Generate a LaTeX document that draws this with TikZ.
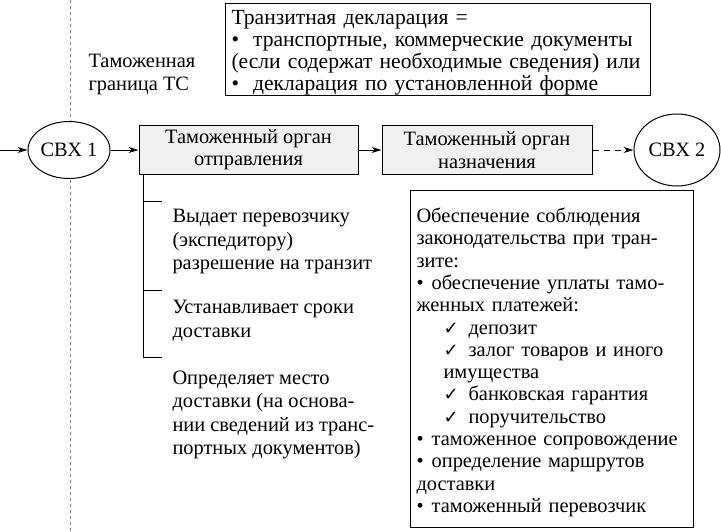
\documentclass[tikz,border=0pt]{standalone}
\usepackage{fontspec}
\setmainfont{Liberation Serif}
\newfontfamily\symfont{DejaVu Sans}
\usetikzlibrary{shapes.geometric, arrows.meta}
\newcommand{\chk}{{\symfont\fontsize{18}{18}\selectfont ✓}}
\newcommand{\bul}{\textbullet}

\begin{document}
\begin{tikzpicture}[x=1pt, y=-1pt, >={Stealth[length=10pt, width=6pt]}, line width=1pt,
        every node/.style={font=\fontsize{20.4}{22.3}\selectfont},
        organ/.style={rectangle, draw, fill=gray!12, minimum height=49pt, align=center},
        svh/.style={ellipse, draw, fill=white, inner sep=0pt},
        note/.style={rectangle, draw, anchor=north west, align=left, inner xsep=6pt},
        task/.style={anchor=north west, align=left, inner sep=0pt, font=\fontsize{20.4}{23.5}\selectfont}]
        \useasboundingbox (0,0) rectangle (721,531);
        % customs border of the union
        \coordinate (gtop) at (70,0);
        \coordinate (gbot) at (70,531);
        \draw [gray, dash pattern=on 3pt off 3pt] (gtop) -- (gbot);
        \node [anchor=north west, align=left, inner sep=0pt] (border) at (88,54) {Таможенная\\граница ТС};

        % declaration
        \node [note, text width=413pt, inner ysep=2pt, text depth=69pt, font=\fontsize{21.6}{22}\selectfont] (decl) at (225,3) {\rule{0pt}{19pt}Транзитная декларация =\\
            \bul\hspace{14pt}транспортные, коммерческие документы\\
            (если содержат необходимые сведения) или\\
            \bul\hspace{14pt}декларация по установленной форме};

        % main route
        \coordinate (in) at (0,150);
        \node [svh, minimum width=82pt, minimum height=57pt] (svh1) at (69,150) {СВХ 1};
        \node [organ, minimum width=219pt] (org1) at (248.5,150) {Таможенный орган\\отправления};
        \node [organ, minimum width=210pt] (org2) at (487,150) {Таможенный орган\\назначения};
        \node [svh, minimum width=86pt, minimum height=72pt] (svh2) at (677,150) {СВХ 2};
        \draw [->] (in) -- (svh1);
        \draw [->] (svh1) -- (org1);
        \draw [->] (org1) -- (org2);
        \draw [->, dash pattern=on 6pt off 5pt] (org2) -- (svh2);

        % tasks of the office of departure
        \coordinate (b0) at (143,174);
        \coordinate (b3) at (143,357);
        \draw (b0) -- (b3);
        \foreach \y in {201,290,357}
            \draw (143,\y) -- (162,\y);
        \node [task] (issue) at (172,209) {Выдает перевозчику\\(экспедитору)\\разрешение на транзит};
        \node [task] (terms) at (172,300) {Устанавливает сроки\\доставки};
        \node [task] (place) at (172,370) {Определяет место\\доставки (на основа-\\нии сведений из транс-\\портных документов)};

        % guarantees
        \node [note, text width=271pt, inner ysep=11pt] (guar) at (410,190) {\rule{0pt}{21pt}Обеспечение соблюдения\\
            законодательства при тран-\\
            зите:\\
            \bul\hspace{8pt}обеспечение уплаты тамо-\\
            женных платежей:\\
            \hspace*{27pt}\chk\hspace{10pt}депозит\\
            \hspace*{27pt}\chk\hspace{10pt}залог товаров и иного\\
            \hspace*{27pt}имущества\\
            \hspace*{27pt}\chk\hspace{10pt}банковская гарантия\\
            \hspace*{27pt}\chk\hspace{10pt}поручительство\\
            \bul\hspace{8pt}таможенное сопровождение\\
            \bul\hspace{8pt}определение маршрутов\\
            доставки\\
            \bul\hspace{8pt}таможенный перевозчик};
\end{tikzpicture}
\end{document}
